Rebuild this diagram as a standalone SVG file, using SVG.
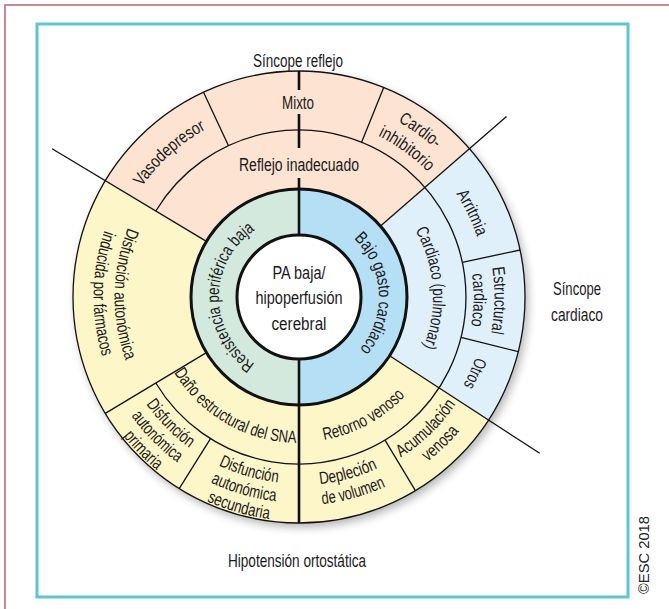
<svg xmlns="http://www.w3.org/2000/svg" xmlns:xlink="http://www.w3.org/1999/xlink" width="669" height="609" viewBox="0 0 669 609">
  <style>
    .t { font-family: "Liberation Sans Narrow", "Liberation Sans", Arial, sans-serif; font-size: 17.5px; fill: #1a1a1a; }
    .c { text-anchor: middle; }
    .ln { stroke: #111; stroke-width: 1.3; fill: none; }
    .bold { stroke: #111; stroke-width: 2.6; fill: none; }
    .pink { fill: #fde3d2; }
    .yellow { fill: #fdf6c9; }
    .sky { fill: #e0f0fb; }
    .mint { fill: #d3e9dd; }
    .blue { fill: #b4dff5; }
  </style>
  <defs>
    <filter id="soft" x="-20%" y="-20%" width="140%" height="140%">
      <feGaussianBlur stdDeviation="5"/>
    </filter>
    <!-- text baselines: clockwise arcs (glyph tops outward) -->
    <path id="a-resist" d="M285.1,375.8 A80,80 0 0 1 285.1,218.2"/>
    <path id="a-bajo" d="M322.4,220.5 A80,80 0 0 1 330.3,370.6"/>
    <path id="a-cardpulm" d="M377.8,188.6 A134,134 0 0 1 392.1,393.4"/>
    <path id="a-arrit" d="M429.6,161.8 A188,188 0 0 1 486.0,277.4"/>
    <path id="a-estr1" d="M483.8,233.3 A195.5,195.5 0 0 1 481.5,367.1"/>
    <path id="a-estr2" d="M464.0,240.2 A174.5,174.5 0 0 1 461.9,359.5"/>
    <path id="a-otros" d="M483.4,324.6 A186.5,186.5 0 0 1 445.0,413.1"/>
    <path id="a-vaso" d="M116.4,237.7 A192,192 0 0 1 259.1,109.2"/>
    <path id="a-cardio1" d="M354.5,103.3 A201.5,201.5 0 0 1 466.0,184.3"/>
    <path id="a-cardio2" d="M348.5,124.4 A179.5,179.5 0 0 1 447.8,196.6"/>
    <!-- counter-clockwise arcs (glyph tops inward) -->
    <path id="a-farm1" d="M159.8,176.0 A184.5,184.5 0 0 0 155.6,413.1"/>
    <path id="a-farm2" d="M143.9,162.2 A205.5,205.5 0 0 0 139.3,426.3"/>
    <path id="a-dano" d="M161.8,346.9 A146,146 0 0 0 324.3,440.8"/>
    <path id="a-retorno" d="M295.2,442.0 A145,145 0 0 0 422.6,372.8"/>
    <path id="a-acum1" d="M360.9,476.6 A190,190 0 0 0 476.4,365.1"/>
    <path id="a-acum2" d="M367.0,494.6 A209,209 0 0 0 494.1,371.9"/>
    <path id="a-depl1" d="M267.9,482.9 A188.5,188.5 0 0 0 421.4,440.3"/>
    <path id="a-depl2" d="M264.6,502.6 A208.5,208.5 0 0 0 434.4,455.5"/>
    <path id="a-sec1" d="M176.6,437.8 A186.5,186.5 0 0 0 328.2,481.2"/>
    <path id="a-sec2" d="M164.2,452.1 A205.5,205.5 0 0 0 331.1,500.0"/>
    <path id="a-sec3" d="M152.0,466.1 A224,224 0 0 0 334.0,518.2"/>
    <path id="a-prim1" d="M126.7,368.4 A186.5,186.5 0 0 0 224.6,468.0"/>
    <path id="a-prim2" d="M109.1,375.6 A205.5,205.5 0 0 0 217.1,485.5"/>
    <path id="a-prim3" d="M92.0,382.7 A224,224 0 0 0 209.7,502.4"/>
  </defs>

  <!-- page frames -->
  <rect x="5" y="5" width="700" height="700" fill="#fff" stroke="#c0606f" stroke-width="1.5"/>
  <rect x="37" y="24" width="591" height="573" fill="#fff" stroke="#5cc7ce" stroke-width="3"/>

  <!-- group titles -->
  <text id="titulo-reflejo" class="t c" x="298" y="67" textLength="90" lengthAdjust="spacingAndGlyphs">Síncope reflejo</text>
  <g id="titulo-cardiaco">
    <text class="t c" x="577" y="295" textLength="48" lengthAdjust="spacingAndGlyphs">Síncope</text>
    <text class="t c" x="577" y="321" textLength="52" lengthAdjust="spacingAndGlyphs">cardiaco</text>
  </g>
  <text id="titulo-ortostatica" class="t c" x="297" y="567" textLength="138" lengthAdjust="spacingAndGlyphs">Hipotensión ortostática</text>
  <text id="copyright" x="649" y="555" transform="rotate(-90 649 555)" text-anchor="middle" font-family="'Liberation Sans', Arial, sans-serif" font-size="14" fill="#222" textLength="78" lengthAdjust="spacingAndGlyphs">©ESC 2018</text>

  <!-- drop shadow under the wheel -->
  <circle id="sombra" cx="302" cy="301" r="226" fill="#000" opacity="0.3" filter="url(#soft)"/>

  <!-- orthostatic hypotension sector -->
  <g id="sector-ortostatica">
    <circle cx="299" cy="297" r="226" class="yellow"/>
    <text class="t" textLength="136" lengthAdjust="spacingAndGlyphs"><textPath xlink:href="#a-farm1" href="#a-farm1" startOffset="50%" text-anchor="middle">Disfunción autonómica</textPath></text>
    <text class="t" textLength="128" lengthAdjust="spacingAndGlyphs"><textPath xlink:href="#a-farm2" href="#a-farm2" startOffset="50%" text-anchor="middle">inducida por fármacos</textPath></text>
    <text class="t" textLength="147" lengthAdjust="spacingAndGlyphs"><textPath xlink:href="#a-dano" href="#a-dano" startOffset="50%" text-anchor="middle">Daño estructural del SNA</textPath></text>
    <text class="t" textLength="94" lengthAdjust="spacingAndGlyphs"><textPath xlink:href="#a-retorno" href="#a-retorno" startOffset="50%" text-anchor="middle">Retorno venoso</textPath></text>
    <text class="t" textLength="77" lengthAdjust="spacingAndGlyphs"><textPath xlink:href="#a-acum1" href="#a-acum1" startOffset="50%" text-anchor="middle">Acumulación</textPath></text>
    <text class="t" textLength="44" lengthAdjust="spacingAndGlyphs"><textPath xlink:href="#a-acum2" href="#a-acum2" startOffset="50%" text-anchor="middle">venosa</textPath></text>
    <text class="t" textLength="60" lengthAdjust="spacingAndGlyphs"><textPath xlink:href="#a-depl1" href="#a-depl1" startOffset="50%" text-anchor="middle">Depleción</textPath></text>
    <text class="t" textLength="66" lengthAdjust="spacingAndGlyphs"><textPath xlink:href="#a-depl2" href="#a-depl2" startOffset="50%" text-anchor="middle">de volumen</textPath></text>
    <text class="t" textLength="62" lengthAdjust="spacingAndGlyphs"><textPath xlink:href="#a-sec1" href="#a-sec1" startOffset="50%" text-anchor="middle">Disfunción</textPath></text>
    <text class="t" textLength="68" lengthAdjust="spacingAndGlyphs"><textPath xlink:href="#a-sec2" href="#a-sec2" startOffset="50%" text-anchor="middle">autonómica</textPath></text>
    <text class="t" textLength="65" lengthAdjust="spacingAndGlyphs"><textPath xlink:href="#a-sec3" href="#a-sec3" startOffset="50%" text-anchor="middle">secundaria</textPath></text>
    <text class="t" textLength="62" lengthAdjust="spacingAndGlyphs"><textPath xlink:href="#a-prim1" href="#a-prim1" startOffset="50%" text-anchor="middle">Disfunción</textPath></text>
    <text class="t" textLength="66" lengthAdjust="spacingAndGlyphs"><textPath xlink:href="#a-prim2" href="#a-prim2" startOffset="50%" text-anchor="middle">autonómica</textPath></text>
    <text class="t" textLength="48" lengthAdjust="spacingAndGlyphs"><textPath xlink:href="#a-prim3" href="#a-prim3" startOffset="50%" text-anchor="middle">primaria</textPath></text>
  </g>

  <!-- reflex syncope sector -->
  <g id="sector-reflejo">
    <path class="pink" d="M299,297 L105.3,180.6 A226,226 0 0 1 469.6,148.7 Z"/>
    <text class="t c" x="298" y="109" textLength="32" lengthAdjust="spacingAndGlyphs">Mixto</text>
    <text class="t c" x="299" y="171" textLength="120" lengthAdjust="spacingAndGlyphs">Reflejo inadecuado</text>
    <text class="t" textLength="87" lengthAdjust="spacingAndGlyphs"><textPath xlink:href="#a-vaso" href="#a-vaso" startOffset="50%" text-anchor="middle">Vasodepresor</textPath></text>
    <text class="t" textLength="46" lengthAdjust="spacingAndGlyphs"><textPath xlink:href="#a-cardio1" href="#a-cardio1" startOffset="50%" text-anchor="middle">Cardio-</textPath></text>
    <text class="t" textLength="62" lengthAdjust="spacingAndGlyphs"><textPath xlink:href="#a-cardio2" href="#a-cardio2" startOffset="50%" text-anchor="middle">inhibitorio</textPath></text>
  </g>

  <!-- cardiac syncope sector -->
  <g id="sector-cardiaco">
    <path class="sky" d="M299,297 L469.6,148.7 A226,226 0 0 1 488.5,420.1 Z"/>
    <text class="t" textLength="121" lengthAdjust="spacingAndGlyphs"><textPath xlink:href="#a-cardpulm" href="#a-cardpulm" startOffset="50%" text-anchor="middle">Cardiaco (pulmonar)</textPath></text>
    <text class="t" textLength="48" lengthAdjust="spacingAndGlyphs"><textPath xlink:href="#a-arrit" href="#a-arrit" startOffset="50%" text-anchor="middle">Arritmia</textPath></text>
    <text class="t" textLength="66" lengthAdjust="spacingAndGlyphs"><textPath xlink:href="#a-estr1" href="#a-estr1" startOffset="50%" text-anchor="middle">Estructural</textPath></text>
    <text class="t" textLength="52" lengthAdjust="spacingAndGlyphs"><textPath xlink:href="#a-estr2" href="#a-estr2" startOffset="50%" text-anchor="middle">cardiaco</textPath></text>
    <text class="t" textLength="31" lengthAdjust="spacingAndGlyphs"><textPath xlink:href="#a-otros" href="#a-otros" startOffset="50%" text-anchor="middle">Otros</textPath></text>
  </g>

  <!-- mechanism ring -->
  <g id="anillo-mecanismos">
    <path class="mint" d="M299,189 A108,108 0 0 0 299,405 Z"/>
    <path class="blue" d="M299,189 A108,108 0 0 1 299,405 Z"/>
    <circle cx="299" cy="297" r="108" fill="none" stroke="#111" stroke-width="3"/>
    <text class="t" textLength="158" lengthAdjust="spacingAndGlyphs"><textPath xlink:href="#a-resist" href="#a-resist" startOffset="50%" text-anchor="middle">Resistencia periférica baja</textPath></text>
    <text class="t" textLength="122" lengthAdjust="spacingAndGlyphs"><textPath xlink:href="#a-bajo" href="#a-bajo" startOffset="50%" text-anchor="middle">Bajo gasto cardiaco</textPath></text>
  </g>

  <!-- central node -->
  <g id="centro">
    <circle cx="299" cy="297" r="62" fill="#fff" stroke="#111" stroke-width="3"/>
    <text class="t c" x="299" y="279" textLength="53" lengthAdjust="spacingAndGlyphs">PA baja/</text>
    <text class="t c" x="299" y="304" textLength="87" lengthAdjust="spacingAndGlyphs">hipoperfusión</text>
    <text class="t c" x="299" y="329.5" textLength="55" lengthAdjust="spacingAndGlyphs">cerebral</text>
  </g>

  <!-- dividing lines -->
  <g id="conectores">
    <circle cx="299" cy="297" r="226" class="ln" stroke-width="1.5"/>
    <path class="ln" d="M155.8,211.0 A167,167 0 1 1 155.8,383.0"/>
    <line class="ln" x1="206.4" y1="241.4" x2="52.1" y2="148.7"/>
    <line class="ln" x1="380.5" y1="226.1" x2="506.5" y2="116.6"/>
    <line class="ln" x1="389.6" y1="355.8" x2="539.7" y2="453.3"/>
    <line class="ln" x1="206.4" y1="352.6" x2="105.3" y2="413.4"/>
    <line class="ln" x1="228.4" y1="145.6" x2="203.5" y2="92.2"/>
    <line class="ln" x1="361.6" y1="142.2" x2="383.7" y2="87.5"/>
    <line class="ln" x1="462.3" y1="262.3" x2="520.1" y2="250.0"/>
    <line class="ln" x1="461.0" y1="337.4" x2="518.3" y2="351.7"/>
    <line class="ln" x1="385.0" y1="440.2" x2="415.4" y2="490.7"/>
    <line class="ln" x1="210.5" y1="438.6" x2="179.2" y2="488.6"/>
    <line class="bold" x1="299" y1="71" x2="299" y2="90"/>
    <line class="bold" x1="299" y1="114" x2="299" y2="148"/>
    <line class="bold" x1="299" y1="178" x2="299" y2="235"/>
    <line class="bold" x1="299" y1="359" x2="299" y2="523"/>
  </g>
</svg>
